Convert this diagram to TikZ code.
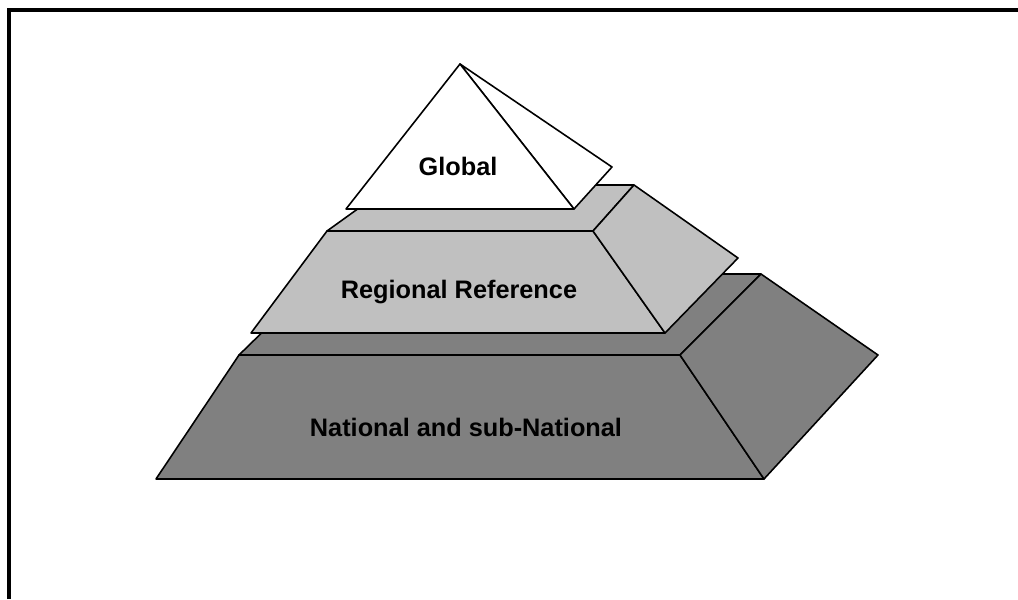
\documentclass[tikz,border=0pt]{standalone}
\usepackage{fontspec}
\setmainfont{Liberation Sans}
\definecolor{nationalgray}{RGB}{128,128,128}
\definecolor{regionalgray}{RGB}{192,192,192}

\begin{document}
\begin{tikzpicture}[x=0.02cm, y=-0.02cm,
    face/.style={draw=black, line width=0.9pt, line join=round},
    tiertext/.style={font=\fontsize{14.4}{17}\selectfont\bfseries}]
    \useasboundingbox (0,0) rectangle (1018,599);

    % frame
    \draw[line width=2.2pt] (9,599) -- (9,10) -- (1018,10);

    % national and sub-national
    \filldraw[face, fill=nationalgray] (239,355) -- (322,274) -- (761,274) -- (680,355) -- cycle;
    \filldraw[face, fill=nationalgray] (239,355) -- (680,355) -- (764,479) -- (156,479) -- cycle;
    \filldraw[face, fill=nationalgray] (680,355) -- (761,274) -- (878,355) -- (764,479) -- cycle;

    % regional
    \filldraw[face, fill=regionalgray] (327,231) -- (391,185) -- (634,185) -- (593,231) -- cycle;
    \filldraw[face, fill=regionalgray] (327,231) -- (593,231) -- (665,333) -- (251,333) -- cycle;
    \filldraw[face, fill=regionalgray] (593,231) -- (634,185) -- (738,258) -- (665,333) -- cycle;

    % global
    \filldraw[face, fill=white] (460,64) -- (612,167) -- (574,209) -- cycle;
    \filldraw[face, fill=white] (460,64) -- (574,209) -- (346,209) -- cycle;

    \node[tiertext] (global) at (458,166) {Global};
    \node[tiertext] (regional) at (459,292) {Regional Reference};
    \node[tiertext] (national) at (466,427) {National and sub-National};
\end{tikzpicture}
\end{document}
